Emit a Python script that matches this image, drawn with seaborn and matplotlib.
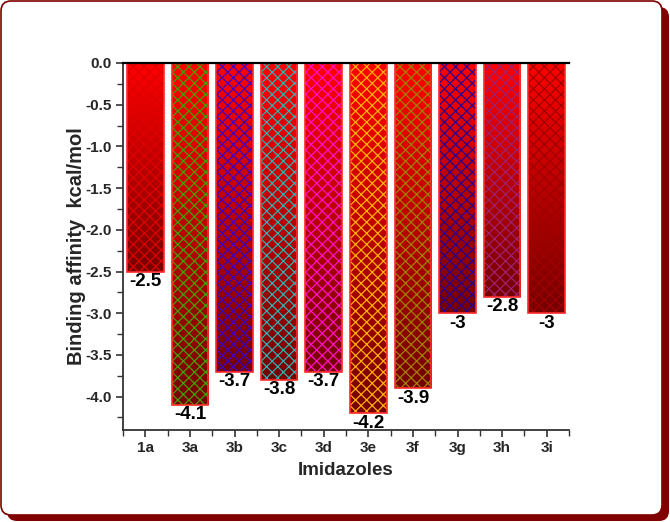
import matplotlib
matplotlib.use('Agg')
import matplotlib.pyplot as plt
import numpy as np
import pandas as pd
import seaborn as sns
from matplotlib.patches import Rectangle, FancyBboxPatch
from matplotlib.colors import LinearSegmentedColormap
from matplotlib.ticker import MultipleLocator, FixedLocator

# data
compounds = ['1a', '3a', '3b', '3c', '3d', '3e', '3f', '3g', '3h', '3i']
affinity = [-2.5, -4.1, -3.7, -3.8, -3.7, -4.2, -3.9, -3, -2.8, -3]
hatch_colors = ['#e00000', '#44a000', '#3a00c8', '#30b0b0', '#ff10c8',
                '#ffb000', '#a08000', '#2a0090', '#a02070', '#a00000']

df = pd.DataFrame({'compound': compounds, 'affinity': affinity})

sns.set_style('ticks')
plt.rcParams['font.family'] = ['Liberation Sans', 'DejaVu Sans']
plt.rcParams['hatch.linewidth'] = 0.9

fig = plt.figure(figsize=(6.7, 5.22), dpi=100)

# rounded frame with shadow
fig.patches.append(FancyBboxPatch((7, 1), 662, 514, boxstyle='round,pad=0,rounding_size=10',
                                  transform=None, facecolor='#800000', edgecolor='none', zorder=-10))
fig.patches.append(FancyBboxPatch((1, 7), 661, 514, boxstyle='round,pad=0,rounding_size=10',
                                  transform=None, facecolor='white', edgecolor='#800000',
                                  linewidth=1.2, zorder=-9))

ax = fig.add_axes([123 / 670, 1 - 430 / 522, 446 / 670, 367 / 522])
ax.patch.set_alpha(0)

sns.barplot(data=df, x='compound', y='affinity', width=0.82, color='red', ax=ax)

grad = LinearSegmentedColormap.from_list('g', ['#740000', '#ff0000'])
for p, hc in zip(ax.patches, hatch_colors):
    x0, w = p.get_x(), p.get_width()
    y0, h = p.get_y(), p.get_height()
    ylo, yhi = min(y0, y0 + h), max(y0, y0 + h)
    img = ax.imshow(np.linspace(0, 1, 256).reshape(-1, 1), cmap=grad, aspect='auto',
                    extent=(x0, x0 + w, ylo, yhi), origin='lower', zorder=1)
    img.set_clip_path(p)
    ax.add_patch(Rectangle((x0, ylo), w, yhi - ylo, fill=False, hatch='xxx',
                           edgecolor=hc, linewidth=0, zorder=2))
    p.set_facecolor('none')
    p.set_edgecolor('#ff2a2a')
    p.set_linewidth(1.2)
    p.set_zorder(3)

ax.bar_label(ax.containers[0], labels=[f'{v:g}' for v in affinity], padding=1,
             fontsize=13.5, fontweight='bold', color='black', zorder=5)

ax.set_xlim(-0.5, 9.5)
ax.set_ylim(-4.4, 0)
ax.yaxis.set_major_locator(MultipleLocator(0.5))
ax.yaxis.set_minor_locator(MultipleLocator(0.25))
ax.xaxis.set_minor_locator(FixedLocator(np.arange(-0.5, 10, 1)))
ax.yaxis.set_major_formatter(matplotlib.ticker.FormatStrFormatter('%.1f'))

ax.tick_params(axis='both', which='major', length=5, width=1.2, color='#333333',
               labelsize=11, pad=3)
ax.tick_params(axis='both', which='minor', length=4, width=1.0, color='#333333')
for lab in ax.get_xticklabels() + ax.get_yticklabels():
    lab.set_fontweight('bold')

ax.spines['right'].set_visible(False)
ax.spines['top'].set_visible(True)
ax.spines['top'].set_color('black')
ax.spines['top'].set_linewidth(1.6)
ax.spines['top'].set_zorder(6)
for s in ['left', 'bottom']:
    ax.spines[s].set_color('#333333')
    ax.spines[s].set_linewidth(1.3)

ax.set_xlabel('Imidazoles', fontsize=13.5, fontweight='bold', labelpad=5)
ax.set_ylabel('Binding affinity  kcal/mol', fontsize=14.5, fontweight='bold', labelpad=0)

fig.savefig('out.png', dpi=100)
